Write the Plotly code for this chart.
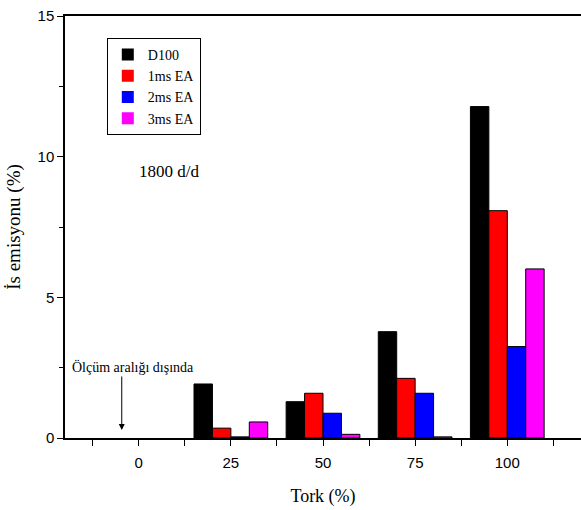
import plotly.graph_objects as go

tork = [0, 25, 50, 75, 100]
series_names = ["D100", "1ms EA", "2ms EA", "3ms EA"]
d100 = [0, 1.92, 1.29, 3.78, 11.78]
ea1 = [0, 0.35, 1.59, 2.12, 8.08]
ea2 = [0, 0.04, 0.88, 1.59, 3.25]
ea3 = [0, 0.57, 0.13, 0.04, 6.01]
colors = ["#000000", "#ff0000", "#0000ff", "#ff00ff"]
y_ticks = [0, 5, 10, 15]

serif = "Liberation Serif"
sans = "Liberation Sans"

fig = go.Figure()
for name, vals, c in zip(series_names, [d100, ea1, ea2, ea3], colors):
    fig.add_trace(go.Bar(x=tork, y=vals, name=name,
                         marker=dict(color=c, line=dict(color="#000000",
                                                        width=[1 if v > 0 else 0 for v in vals]))))

fig.update_layout(
    width=581, height=510,
    font=dict(family=serif, color="black"),
    margin=dict(l=65, r=0, t=16, b=72),
    plot_bgcolor="white", paper_bgcolor="white",
    barmode="group", bargap=0.2, bargroupgap=0,
    showlegend=True,
    legend=dict(x=0.081, y=0.948, xanchor="left", yanchor="top",
                bgcolor="white", bordercolor="#000000", borderwidth=1,
                font=dict(family=serif, size=14, color="black"),
                tracegroupgap=0),
    xaxis=dict(range=[-20, 120], tickvals=tork, ticktext=[str(t) for t in tork],
               showline=True, linecolor="black", linewidth=1.5, mirror=True,
               ticks="outside", ticklen=6, tickcolor="black", showgrid=False, zeroline=False,
               ticklabelstandoff=4,
               tickfont=dict(family=sans, size=15, color="black"),
               minor=dict(dtick=12.5, tick0=0, ticks="outside", ticklen=6, tickcolor="black", showgrid=False),
               title=dict(text="Tork (%)", font=dict(family=serif, size=18, color="black"), standoff=20)),
    yaxis=dict(range=[0, 15], tickvals=y_ticks,
               showline=True, linecolor="black", linewidth=1.5, mirror=False,
               ticks="outside", ticklen=6, tickcolor="black", showgrid=False, zeroline=False,
               tickfont=dict(family=sans, size=15, color="black"),
               minor=dict(dtick=2.5, ticks="outside", ticklen=4, tickcolor="black", showgrid=False),
               title=dict(text="İs emisyonu (%)", font=dict(family=serif, size=19, color="black"), standoff=12)),
)

fig.add_annotation(x=8.1, y=9.46, text="1800 d/d", showarrow=False,
                   font=dict(family=serif, size=17, color="black"))
fig.add_annotation(x=-1.5, y=2.52, text="Ölçüm aralığı dışında", showarrow=False,
                   font=dict(family=serif, size=14, color="black"))
fig.add_annotation(x=-4.6, y=0.28, ax=-4.6, ay=2.24, xref="x", yref="y", axref="x", ayref="y",
                   text="", showarrow=True, arrowhead=2, arrowsize=1.2, arrowwidth=1, arrowcolor="black")

fig.write_html("out.html")
